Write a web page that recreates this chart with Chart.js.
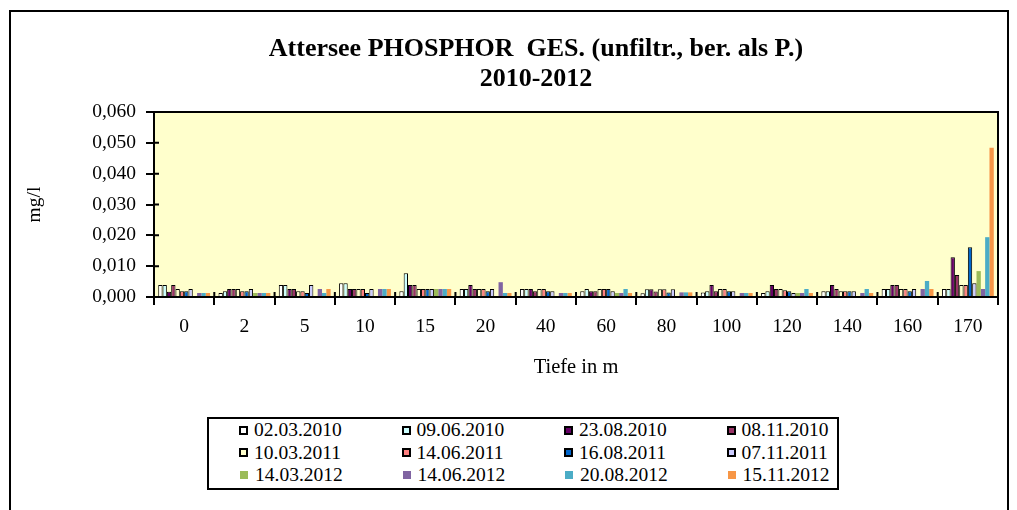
<!DOCTYPE html>
<html>
<head>
<meta charset="utf-8">
<script src="https://cdn.jsdelivr.net/npm/chart.js@4.4.1/dist/chart.umd.min.js"></script>
<style>
  html, body { margin: 0; padding: 0; background: #fff; }
  body { width: 1017px; height: 510px; position: relative; overflow: hidden; font-family: 'Liberation Serif', 'Times New Roman', serif; }
  #frame { position: absolute; left: 9px; top: 10px; width: 1000px; height: 520px; border: 2px solid #000; box-sizing: border-box; }
  #chart { position: absolute; left: 0; top: 0; }
  #legend {
    position: absolute; left: 207px; top: 417px; width: 632px; height: 73px;
    border: 2px solid #000; box-sizing: border-box; background: #fff;
    display: grid; grid-template-columns: repeat(4, 162.5px); grid-auto-rows: 22.5px;
    padding-left: 30px; font-size: 19.5px; color: #000;
  }
  .item { display: flex; align-items: center; white-space: nowrap; }
  .mark { display: inline-block; margin-right: 6px; box-sizing: border-box; }
</style>
</head>
<body>
<div id="frame"></div>
<canvas id="chart" width="1017" height="510"></canvas>
<div id="legend"></div>
<script>
// depths (categories)
const depths = ['0', '2', '5', '10', '15', '20', '40', '60', '80', '100', '120', '140', '160', '170'];

// sampling dates (series names)
const dates = ['02.03.2010', '09.06.2010', '23.08.2010', '08.11.2010',
               '10.03.2011', '14.06.2011', '16.08.2011', '07.11.2011',
               '14.03.2012', '14.06.2012', '20.08.2012', '15.11.2012'];

// values in mg/l, one array per date
const mar2010 = [0.0039, 0.0013, 0.0039, 0.0045, 0.0019, 0.0026, 0.0026, 0.0019, 0.0012, 0.0015, 0.0013, 0.0019, 0.0026, 0.0026];
const jun2010 = [0.0039, 0.0019, 0.0039, 0.0045, 0.0077, 0.0026, 0.0026, 0.0026, 0.0025, 0.0019, 0.0019, 0.0019, 0.0026, 0.0026];
const aug2010 = [0.0017, 0.0026, 0.0026, 0.0026, 0.0039, 0.0039, 0.0026, 0.0019, 0.0025, 0.0039, 0.0039, 0.0039, 0.0039, 0.0129];
const nov2010 = [0.0039, 0.0026, 0.0026, 0.0026, 0.0039, 0.0026, 0.0019, 0.0019, 0.0018, 0.0019, 0.0026, 0.0026, 0.0039, 0.0071];
const mar2011 = [0.0026, 0.0026, 0.0019, 0.0026, 0.0026, 0.0026, 0.0026, 0.0026, 0.0025, 0.0026, 0.0026, 0.0019, 0.0026, 0.0039];
const jun2011 = [0.0019, 0.0019, 0.0019, 0.0026, 0.0026, 0.0026, 0.0026, 0.0026, 0.0025, 0.0026, 0.0022, 0.0019, 0.0026, 0.0039];
const aug2011 = [0.0019, 0.0019, 0.0013, 0.0013, 0.0026, 0.0019, 0.0019, 0.0026, 0.0015, 0.0019, 0.0019, 0.0019, 0.0019, 0.0161];
const nov2011 = [0.0026, 0.0026, 0.0039, 0.0026, 0.0026, 0.0026, 0.0019, 0.0019, 0.0025, 0.0019, 0.0013, 0.0019, 0.0026, 0.0045];
const mar2012 = [null, 0.0013, null, null, 0.0026, null, null, 0.0013, null, null, 0.0013, null, null, 0.0084];
const jun2012 = [0.0013, 0.0013, 0.0026, 0.0026, 0.0026, 0.0048, 0.0013, 0.0013, 0.0015, 0.0013, 0.0013, 0.0013, 0.0026, 0.0026];
const aug2012 = [0.0013, 0.0013, 0.0013, 0.0026, 0.0026, 0.0013, 0.0013, 0.0026, 0.0015, 0.0013, 0.0026, 0.0026, 0.0052, 0.0194];
const nov2012 = [0.0013, 0.0013, 0.0026, 0.0026, 0.0026, 0.0013, 0.0013, 0.0013, 0.0015, 0.0013, 0.0013, 0.0013, 0.0026, 0.0484];

const series = [mar2010, jun2010, aug2010, nov2010, mar2011, jun2011, aug2011, nov2011, mar2012, jun2012, aug2012, nov2012];
const colors = ['#FFFFFF', '#CCFFFF', '#660066', '#993366', '#FFFFCC', '#FF8080',
                '#0066CC', '#CCCCFF', '#9BBB59', '#8064A2', '#4BACC6', '#F79646'];

const titleLines = ['Attersee PHOSPHOR  GES. (unfiltr., ber. als P.)', '2010-2012'];

Chart.defaults.font.family = "'Liberation Serif', 'Times New Roman', serif";
Chart.defaults.color = '#000';

// 2012 series have no outline
const datasets = series.map((vals, i) => ({
    label: dates[i],
    data: vals,
    backgroundColor: colors[i],
    borderColor: '#000',
    borderWidth: i < 8 ? 1 : 0,
    categoryPercentage: 0.86,
    barPercentage: 1.0
}));

// yellow plot area, frame, crossing tick stubs and title
const decor = {
    id: 'decor',
    beforeDraw(chart) {
        const { ctx, chartArea: a } = chart;
        ctx.save();
        ctx.fillStyle = '#FFFFCC';
        ctx.fillRect(a.left, a.top, a.right - a.left, a.bottom - a.top);
        ctx.restore();
    },
    afterDraw(chart) {
        const { ctx, chartArea: a, scales } = chart;
        ctx.save();
        ctx.strokeStyle = '#000';
        ctx.lineWidth = 2;
        ctx.strokeRect(a.left, a.top, a.right - a.left, a.bottom - a.top);

        ctx.beginPath();
        scales.y.ticks.forEach((t, i) => {
            const y = scales.y.getPixelForTick(i);
            ctx.moveTo(a.left, y);
            ctx.lineTo(a.left + 5, y);
        });
        const step = scales.x.getPixelForTick(1) - scales.x.getPixelForTick(0);
        for (let i = 0; i <= depths.length; i++) {
            const x = scales.x.getPixelForTick(0) - step / 2 + step * i;
            ctx.moveTo(x, a.bottom);
            ctx.lineTo(x, a.bottom - 5);
        }
        ctx.stroke();

        ctx.fillStyle = '#000';
        ctx.font = "bold 26px 'Liberation Serif', 'Times New Roman', serif";
        ctx.textAlign = 'center';
        ctx.textBaseline = 'middle';
        titleLines.forEach((t, i) => ctx.fillText(t, 536, 49 + 30 * i));
        ctx.restore();
    }
};

new Chart(document.getElementById('chart'), {
    type: 'bar',
    data: { labels: depths, datasets: datasets },
    plugins: [decor],
    options: {
        responsive: false,
        animation: false,
        layout: { padding: { top: 112, left: 23, right: 19, bottom: 130 } },
        plugins: {
            legend: { display: false },
            title: { display: false },
            tooltip: { enabled: false }
        },
        scales: {
            x: {
                offset: true,
                grid: { offset: true, drawOnChartArea: false, tickLength: 8, color: '#000', lineWidth: 2 },
                border: { color: '#000', width: 2 },
                ticks: { font: { size: 19.5 }, color: '#000', padding: 10, maxRotation: 0, autoSkip: false },
                title: { display: true, text: 'Tiefe in m', font: { size: 20.5 }, color: '#000', padding: 0 },
                afterFit: s => { s.height = 83; }
            },
            y: {
                min: 0,
                max: 0.06,
                grid: { drawOnChartArea: false, tickLength: 8, color: '#000', lineWidth: 2 },
                border: { color: '#000', width: 2 },
                ticks: {
                    stepSize: 0.01,
                    font: { size: 19.5 },
                    color: '#000',
                    padding: 10,
                    callback: v => v.toFixed(3).replace('.', ',')
                },
                title: { display: true, text: 'mg/l', font: { size: 19.5 }, color: '#000', padding: 0 },
                afterFit: s => { s.width = 131; }
            }
        }
    }
});

// legend, 4 columns
const legend = document.getElementById('legend');
dates.forEach((d, i) => {
    const item = document.createElement('div');
    item.className = 'item';
    const mark = document.createElement('span');
    mark.className = 'mark';
    if (i < 8) {
        mark.style.cssText = `width:9px;height:9px;border:2px solid #000;background:${colors[i]}`;
    } else {
        mark.style.cssText = `width:8px;height:8px;margin-left:1px;margin-right:7px;background:${colors[i]}`;
    }
    item.appendChild(mark);
    item.appendChild(document.createTextNode(d));
    legend.appendChild(item);
});
</script>
</body>
</html>
